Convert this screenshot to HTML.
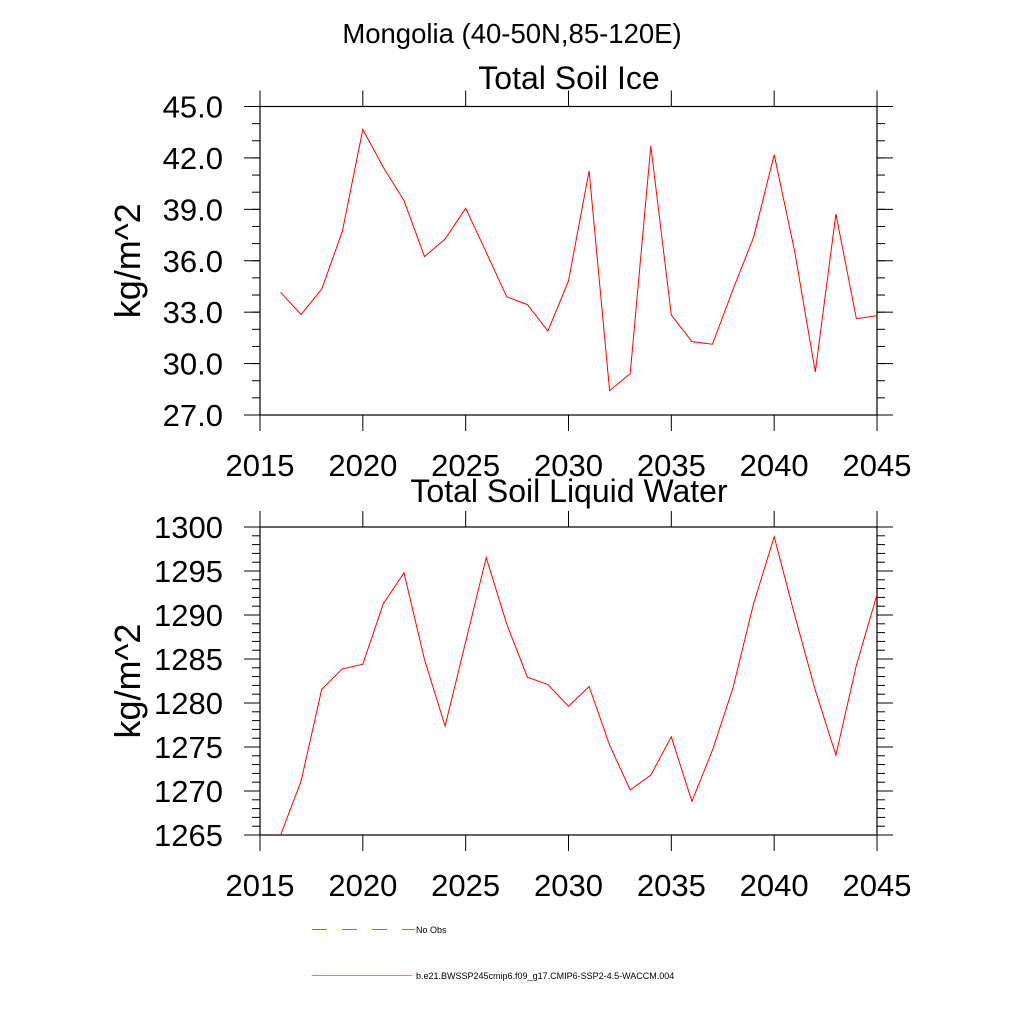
<!DOCTYPE html>
<html><head><meta charset="utf-8"><style>
html,body{margin:0;padding:0;background:#fff;}
svg{display:block;font-family:"Liberation Sans",sans-serif;}
</style></head><body>
<svg id="chart" width="1024" height="1024" viewBox="0 0 1024 1024">
<rect width="1024" height="1024" fill="#fff"/>
<text x="512" y="43" font-size="27.5" text-anchor="middle">Mongolia (40-50N,85-120E)</text>
<g id="p1"></g>
<g id="p2"></g>
<g>
<line x1="312" y1="929.5" x2="415" y2="929.5" stroke="#6b6bff" stroke-width="1" stroke-dasharray="15,15"/>
<text x="416" y="933" font-size="9">No Obs</text>
<line x1="312" y1="975.5" x2="412" y2="975.5" stroke="#ff7070" stroke-width="1"/>
<text x="416" y="979" font-size="9">b.e21.BWSSP245cmip6.f09_g17.CMIP6-SSP2-4.5-WACCM.004</text>
</g>
</svg>
<script>
const years = [2016,2017,2018,2019,2020,2021,2022,2023,2024,2025,2026,2027,2028,2029,2030,2031,2032,2033,2034,2035,2036,2037,2038,2039,2040,2041,2042,2043,2044,2045];
const iceValues = [34.16,32.86,34.34,37.70,43.66,41.44,39.51,36.24,37.27,39.06,36.50,33.89,33.44,31.90,34.82,41.24,28.42,29.41,42.70,32.84,31.28,31.13,34.32,37.37,42.18,36.54,29.51,38.73,32.62,32.80];
const liquidValues = [1265.0,1271.13,1281.54,1283.88,1284.41,1291.30,1294.78,1284.94,1277.37,1286.95,1296.52,1288.95,1282.93,1282.10,1279.61,1281.88,1275.22,1270.11,1271.81,1276.16,1268.82,1274.65,1281.72,1291.30,1298.90,1289.97,1281.46,1274.08,1284.30,1292.32];
const xTicks = [2015,2020,2025,2030,2035,2040,2045];
const iceTicks = [27,30,33,36,39,42,45];
const iceTickLabels = ["27.0","30.0","33.0","36.0","39.0","42.0","45.0"];
const liquidTicks = [1265,1270,1275,1280,1285,1290,1295,1300];
const liquidTickLabels = ["1265","1270","1275","1280","1285","1290","1295","1300"];

const NS='http://www.w3.org/2000/svg';
function mk(parent,tag,attrs){const e=document.createElementNS(NS,tag);for(const k in attrs)e.setAttribute(k,attrs[k]);parent.appendChild(e);return e;}

function panel(gid,top,bottom,ymin,ymax,ticks,labels,minorStep,vals,title,titleY,name){
  const g=document.getElementById(gid);
  const L=260,R=877;
  const x=v=>L+(v-2015)/30*(R-L);
  const y=v=>bottom-(v-ymin)/(ymax-ymin)*(bottom-top);
  for(let v=ymin;v<=ymax+1e-9;v+=minorStep){
    const yy=y(v);
    let t=mk(g,'line',{x1:L-8,x2:L,y1:yy,y2:yy,stroke:'#000','stroke-width':1});
    
    
    t=mk(g,'line',{x1:R,x2:R+8,y1:yy,y2:yy,stroke:'#000','stroke-width':1});
    
    
  }
  ticks.forEach((v,i)=>{
    const yy=y(v);
    let t=mk(g,'line',{x1:L-16,x2:L,y1:yy,y2:yy,stroke:'#000','stroke-width':1});
    
    
    t=mk(g,'line',{x1:R,x2:R+16,y1:yy,y2:yy,stroke:'#000','stroke-width':1});
    
    
    const tx=mk(g,'text',{x:223,y:yy+11,'font-size':31,'text-anchor':'end'});
    tx.textContent=labels[i];
    
    
  });
  xTicks.forEach(v=>{
    const xx=x(v);
    let t=mk(g,'line',{x1:xx,x2:xx,y1:bottom,y2:bottom+16,stroke:'#000','stroke-width':1});
    
    
    t=mk(g,'line',{x1:xx,x2:xx,y1:top-16,y2:top,stroke:'#000','stroke-width':1});
    
    
    const tx=mk(g,'text',{x:xx,y:bottom+61,'font-size':31,'text-anchor':'middle'});
    tx.textContent=String(v);
    
    
  });
  const fr=mk(g,'rect',{x:L,y:top,width:R-L,height:bottom-top,fill:'none',stroke:'#000','stroke-width':1.2});
  
  
  const pts=vals.map((v,i)=>x(years[i]).toFixed(1)+','+y(v).toFixed(1)).join(' ');
  const pl=mk(g,'polyline',{points:pts,fill:'none',stroke:'#ff0000','stroke-width':1});
  
  
  const tt=mk(g,'text',{x:569,y:titleY,'font-size':32,'text-anchor':'middle'});
  tt.textContent=title;
  
  
  const yl=mk(g,'text',{x:0,y:0,'font-size':36,'text-anchor':'middle',transform:'translate(140,'+((top+bottom)/2)+') rotate(-90)'});
  yl.textContent='kg/m^2';
  
  
}
panel('p1',106.5,415,27,45,iceTicks,iceTickLabels,1,iceValues,'Total Soil Ice',89,'soil-ice');
panel('p2',527,835,1265,1300,liquidTicks,liquidTickLabels,1,liquidValues,'Total Soil Liquid Water',502,'soil-liquid');
</script>
</body></html>
